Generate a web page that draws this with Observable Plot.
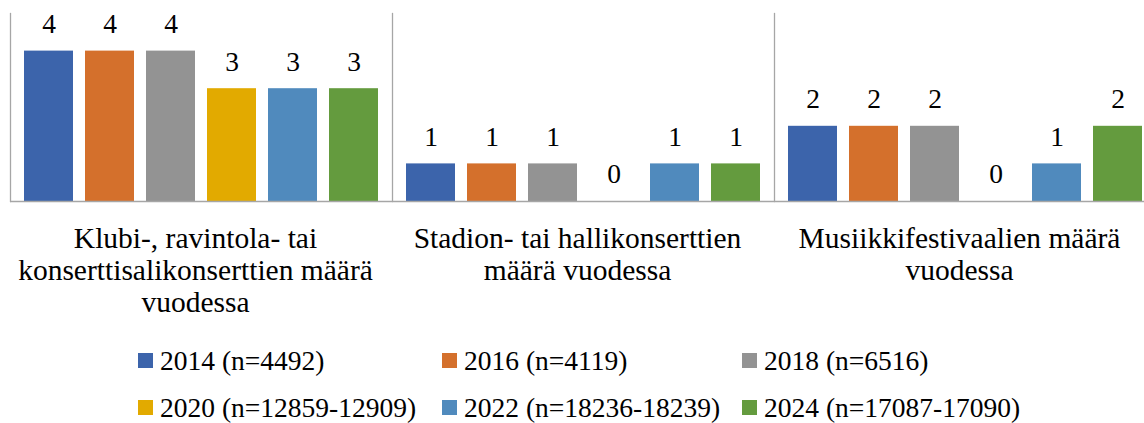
<!DOCTYPE html>
<html>
<head>
<meta charset="utf-8">
<script src="https://cdn.jsdelivr.net/npm/d3@7"></script>
<script src="https://cdn.jsdelivr.net/npm/@observablehq/plot@0.6"></script>
<style>
  html, body { margin: 0; padding: 0; background: #fff; overflow: hidden; font-family: 'Liberation Serif', serif; }
  #chart svg { display: block; overflow: hidden; }
  #legend { position: relative; height: 93px; font-family: 'Liberation Serif', serif; font-size: 27.5px; color: #000; }
  .item { position: absolute; display: flex; align-items: center; white-space: nowrap; height: 47px; }
  .sw { width: 15px; height: 15px; margin-right: 7px; flex: none; }
</style>
</head>
<body>
<div id="chart"></div>
<div id="legend"></div>
<script>
const categories = [
  "Klubi-, ravintola- tai konserttisalikonserttien määrä vuodessa",
  "Stadion- tai hallikonserttien määrä vuodessa",
  "Musiikkifestivaalien määrä vuodessa"
];
const categoryLabels = [
  "Klubi-, ravintola- tai\nkonserttisalikonserttien määrä\nvuodessa",
  "Stadion- tai hallikonserttien\nmäärä vuodessa",
  "Musiikkifestivaalien määrä\nvuodessa"
];
const seriesNames = [
  "2014 (n=4492)",
  "2016 (n=4119)",
  "2018 (n=6516)",
  "2020 (n=12859-12909)",
  "2022 (n=18236-18239)",
  "2024 (n=17087-17090)"
];
const seriesColors = ["#3c64ab", "#d4702c", "#939393", "#e2aa00", "#508abd", "#649b3e"];
const values2014 = [4, 1, 2];
const values2016 = [4, 1, 2];
const values2018 = [4, 1, 2];
const values2020 = [3, 0, 0];
const values2022 = [3, 1, 1];
const values2024 = [3, 1, 2];

const allValues = [values2014, values2016, values2018, values2020, values2022, values2024];
const data = [];
categories.forEach((c, ci) => {
  seriesNames.forEach((s, si) => {
    data.push({category: c, series: s, value: allValues[si][ci]});
  });
});
const labelOf = new Map(categories.map((c, i) => [c, categoryLabels[i]]));
const font = "'Liberation Serif', serif";

const chart = Plot.plot({
  width: 1144,
  height: 330,
  marginLeft: 10,
  marginRight: -12,
  marginTop: 13,
  marginBottom: 129,
  style: {fontFamily: font, background: "#fff"},
  fx: {domain: categories, padding: 0, label: null},
  x: {domain: seriesNames, padding: 0.2, axis: null},
  y: {domain: [0, 5], axis: null},
  color: {domain: seriesNames, range: seriesColors},
  marks: [
    Plot.barY(data, {fx: "category", x: "series", y: "value", fill: "series"}),
    Plot.text(data, {fx: "category", x: "series", y: "value", text: d => String(d.value), dy: -27, lineAnchor: "middle", fontSize: 27.5, fill: "#000", fontFamily: font}),
    Plot.frame({anchor: "left", stroke: "#a6a6a6", strokeWidth: 1.3}),
    Plot.ruleY([0], {stroke: "#a6a6a6", strokeWidth: 1.3}),
    Plot.axisFx({anchor: "bottom", tickSize: 0, tickPadding: 23, dx: -6, label: null, tickFormat: d => labelOf.get(d), fontSize: 29.5, lineHeight: 1.1, fill: "#000", fontFamily: font})
  ]
});
document.getElementById("chart").appendChild(chart);

const legend = document.getElementById("legend");
const colX = [138, 442, 742];
seriesNames.forEach((s, i) => {
  const item = document.createElement("div");
  item.className = "item";
  item.style.left = colX[i % 3] + "px";
  item.style.top = (7 + Math.floor(i / 3) * 47) + "px";
  const sw = document.createElement("span");
  sw.className = "sw";
  sw.style.background = seriesColors[i];
  const t = document.createElement("span");
  t.textContent = s;
  item.appendChild(sw);
  item.appendChild(t);
  legend.appendChild(item);
});
</script>
</body>
</html>
